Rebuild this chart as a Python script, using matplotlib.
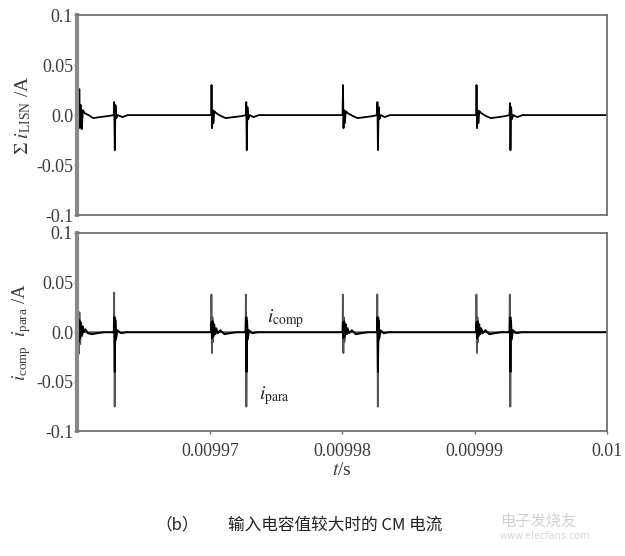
import numpy as np
import matplotlib
matplotlib.use('Agg')
import matplotlib.pyplot as plt

plt.rcParams['font.family'] = ['Liberation Serif', 'DejaVu Serif']
plt.rcParams['mathtext.fontset'] = 'stix'

# time in microseconds
t_lisn_us = [9960.00, 9960.05, 9960.10, 9960.15, 9960.20, 9960.27, 9960.34, 9960.42, 9960.55, 9960.85,
             9961.20, 9961.70, 9962.30, 9962.75, 9962.78, 9962.83, 9962.88, 9962.94, 9963.05, 9963.40, 9963.80,
             9970.10, 9970.13, 9970.17, 9970.21, 9970.27, 9970.34, 9970.48, 9970.85, 9971.20, 9971.80,
             9972.40, 9972.72, 9972.75, 9972.79, 9972.84, 9972.90, 9973.00, 9973.30, 9973.70,
             9980.02, 9980.05, 9980.09, 9980.13, 9980.19, 9980.26, 9980.40, 9980.80, 9981.15, 9981.75,
             9982.30, 9982.62, 9982.65, 9982.69, 9982.74, 9982.80, 9982.90, 9983.20, 9983.60,
             9990.10, 9990.13, 9990.17, 9990.21, 9990.27, 9990.34, 9990.48, 9990.85, 9991.20, 9991.80,
             9992.30, 9992.62, 9992.65, 9992.69, 9992.74, 9992.80, 9992.90, 9993.20, 9993.60, 10000.0]
i_lisn = [0.000, 0.030, -0.010, 0.026, -0.013, 0.010, -0.014, 0.005, 0.002, 0.000,
          -0.003, -0.002, -0.001, 0.000, 0.013, -0.035, 0.010, -0.003, 0.000, -0.002, 0.000,
          0.000, 0.030, -0.013, 0.005, -0.008, 0.004, 0.002, -0.001, -0.003, -0.002,
          -0.001, 0.000, 0.013, -0.035, 0.008, -0.004, 0.000, -0.002, 0.000,
          0.000, 0.030, -0.013, 0.005, -0.008, 0.004, 0.002, -0.001, -0.003, -0.002,
          -0.001, 0.000, 0.013, -0.035, 0.008, -0.004, 0.000, -0.002, 0.000,
          0.000, 0.030, -0.013, 0.005, -0.008, 0.004, 0.002, -0.001, -0.003, -0.002,
          -0.001, 0.000, 0.012, -0.035, 0.008, -0.004, 0.000, -0.002, 0.000, 0.000]

t_para_us = [9960.00, 9960.05, 9960.10, 9960.16, 9960.22, 9960.28, 9960.36, 9960.45, 9960.60,
             9962.75, 9962.78, 9962.82, 9962.86, 9962.91, 9963.00,
             9970.10, 9970.12, 9970.16, 9970.20, 9970.24, 9970.30, 9970.40, 9970.55,
             9972.70, 9972.72, 9972.76, 9972.80, 9972.85, 9972.95,
             9980.02, 9980.04, 9980.08, 9980.12, 9980.16, 9980.22, 9980.32, 9980.47,
             9982.62, 9982.64, 9982.68, 9982.72, 9982.77, 9982.87,
             9990.10, 9990.12, 9990.16, 9990.20, 9990.24, 9990.30, 9990.40, 9990.55,
             9992.62, 9992.64, 9992.68, 9992.72, 9992.77, 9992.87, 10000.0]
i_para = [0.000, 0.038, -0.022, 0.020, -0.012, 0.010, -0.004, 0.002, 0.000,
          0.000, 0.040, -0.075, 0.015, -0.008, 0.000,
          0.000, 0.038, -0.021, 0.015, -0.010, 0.006, -0.002, 0.000,
          0.000, 0.038, -0.075, 0.015, -0.008, 0.000,
          0.000, 0.038, -0.021, 0.015, -0.010, 0.006, -0.002, 0.000,
          0.000, 0.038, -0.075, 0.015, -0.008, 0.000,
          0.000, 0.038, -0.021, 0.015, -0.010, 0.006, -0.002, 0.000,
          0.000, 0.038, -0.075, 0.015, -0.008, 0.000, 0.000]

t_comp_us = [9960.00, 9960.06, 9960.11, 9960.16, 9960.21, 9960.27, 9960.33, 9960.40, 9960.48, 9960.60,
             9960.80, 9961.10, 9961.50, 9962.00, 9962.76, 9962.79, 9962.83, 9962.87, 9962.92, 9963.01,
             9963.30, 9963.70,
             9970.10, 9970.13, 9970.17, 9970.22, 9970.27, 9970.33, 9970.40, 9970.48, 9970.60,
             9970.80, 9971.10, 9971.50, 9972.00, 9972.70, 9972.73, 9972.77, 9972.81, 9972.86, 9972.95,
             9973.20, 9973.60,
             9980.02, 9980.05, 9980.09, 9980.14, 9980.19, 9980.25, 9980.32, 9980.40, 9980.52,
             9980.72, 9981.02, 9981.42, 9981.92, 9982.62, 9982.65, 9982.69, 9982.73, 9982.78, 9982.87,
             9983.12, 9983.52,
             9990.10, 9990.13, 9990.17, 9990.22, 9990.27, 9990.33, 9990.40, 9990.48, 9990.60,
             9990.80, 9991.10, 9991.50, 9992.00, 9992.62, 9992.65, 9992.69, 9992.73, 9992.78, 9992.87,
             9993.12, 9993.52, 10000.0]
i_comp = [0.000, 0.014, -0.010, 0.012, -0.006, 0.009, -0.003, 0.006, 0.000, 0.003,
          -0.001, -0.002, -0.001, 0.000, 0.000, 0.015, -0.040, 0.012, -0.006, 0.002,
          -0.001, 0.000,
          0.000, 0.010, -0.006, 0.011, -0.004, 0.008, -0.002, 0.004, -0.001,
          0.002, -0.002, -0.001, 0.000, 0.000, 0.015, -0.040, 0.012, -0.006, 0.002,
          -0.001, 0.000,
          0.000, 0.010, -0.006, 0.011, -0.004, 0.008, -0.002, 0.004, -0.001,
          0.002, -0.002, -0.001, 0.000, 0.000, 0.015, -0.040, 0.012, -0.006, 0.002,
          -0.001, 0.000,
          0.000, 0.010, -0.006, 0.011, -0.004, 0.008, -0.002, 0.004, -0.001,
          0.002, -0.002, -0.001, 0.000, 0.000, 0.015, -0.040, 0.012, -0.006, 0.002,
          -0.001, 0.000, 0.000]

y_ticks = [0.1, 0.05, 0.0, -0.05, -0.1]
y_labels = ['0.1', '0.05', '0.0', '-0.05', '-0.1']
x_ticks = [0.00997, 0.00998, 0.00999, 0.01]
x_labels = ['0.00997', '0.00998', '0.00999', '0.01']

fig = plt.figure(figsize=(6.25, 5.56), dpi=100)
ax1 = fig.add_axes([0.1237, 0.613, 0.8480, 0.360])
ax2 = fig.add_axes([0.1237, 0.224, 0.8480, 0.357])

ax1.plot(np.array(t_lisn_us) * 1e-6, i_lisn, color='black', lw=1.3)
ax2.plot(np.array(t_para_us) * 1e-6, i_para, color='#555555', lw=1.3)
ax2.plot(np.array(t_comp_us) * 1e-6, i_comp, color='black', lw=1.4)

for ax in (ax1, ax2):
    ax.set_xlim(0.00996, 0.01)
    ax.set_ylim(-0.1, 0.1)
    ax.set_yticks(y_ticks)
    ax.set_yticklabels(y_labels)
    for s in ax.spines.values():
        s.set_color('#707070')
        s.set_linewidth(1.3)
    ax.spines['left'].set_linewidth(3)
    ax.spines['left'].set_color('#8a8a8a')
    ax.tick_params(axis='y', direction='out', length=2, width=1, color='#707070',
                   labelsize=13, labelcolor='#3a3a3a', pad=1)

ax1.set_xticks([])
ax2.set_xticks(x_ticks)
ax2.set_xticklabels(x_labels)
ax2.tick_params(axis='x', direction='out', length=2, width=1, color='#707070',
                labelsize=13, labelcolor='#3a3a3a', pad=6)

ax1.set_ylabel(r'$\Sigma\ i_{\mathregular{LISN}}$ /A', fontsize=14, color='#3a3a3a', labelpad=2)
ax2.set_ylabel(r'$i_{\mathregular{comp}}\ \ i_{\mathregular{para}}$ /A', fontsize=13.5,
               color='#3a3a3a', labelpad=2)
ax2.set_xlabel(r'$t$/s', fontsize=14, color='#3a3a3a', labelpad=2)

ax2.text(0.0099743, 0.0135, r'$i_{\mathrm{comp}}$', fontsize=14, color='#222222', va='center')
ax2.text(0.0099737, -0.0635, r'$i_{\mathrm{para}}$', fontsize=14, color='#222222', va='center')

fig.text(0.248, 0.047, '（b）', fontsize=12, family=['Noto Sans CJK SC', 'DejaVu Sans'], color='#222222')
fig.text(0.365, 0.047, '输入电容值较大时的 CM 电流', fontsize=12,
         family=['Noto Sans CJK SC', 'DejaVu Sans'], color='#222222')
fig.text(0.80, 0.055, '电子发烧友', fontsize=11, family=['Noto Sans CJK SC', 'DejaVu Sans'],
         color='#d0d0d0')
fig.text(0.80, 0.030, 'www.elecfans.com', fontsize=7, family=['DejaVu Sans'], color='#d8d8d8')

fig.savefig('out.png', dpi=100)
